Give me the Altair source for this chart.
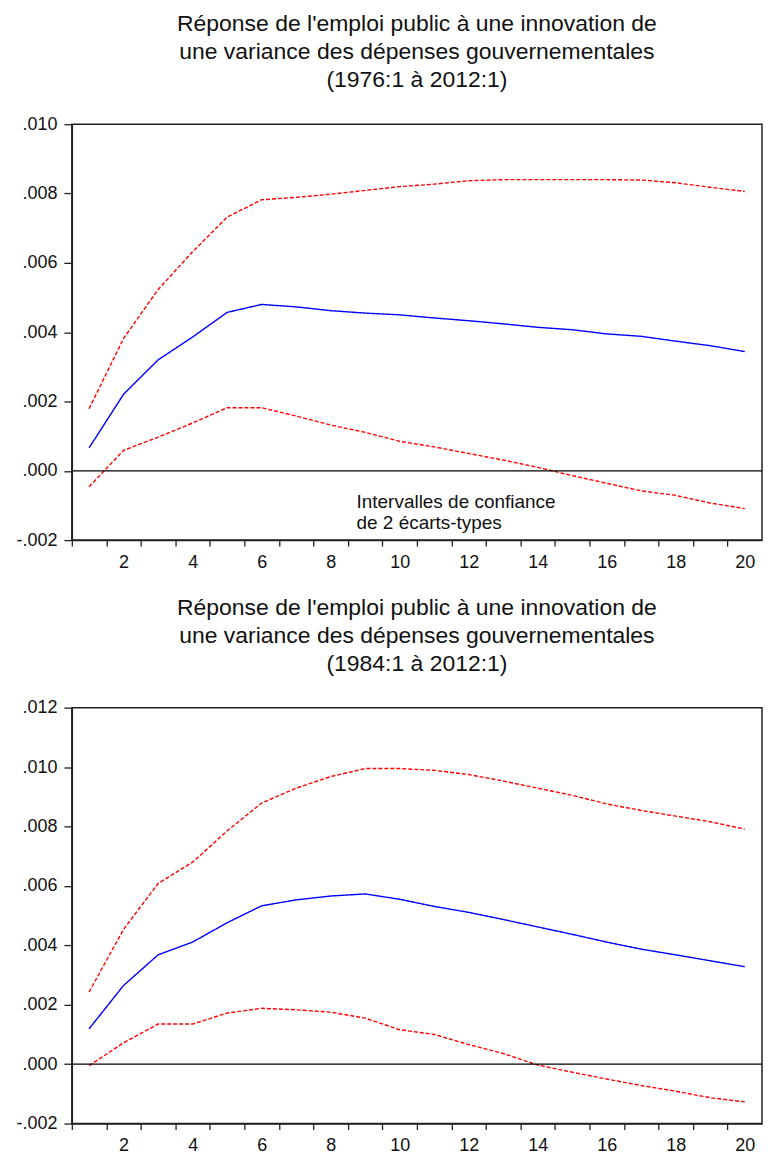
import altair as alt
import pandas as pd

periodes = list(range(1, 21))

# Panel 1 : 1976:1 à 2012:1
reponse_1 = [0.00066, 0.00221, 0.00320, 0.00386, 0.00457, 0.00480, 0.00473, 0.00462, 0.00455, 0.00450,
             0.00441, 0.00433, 0.00424, 0.00414, 0.00407, 0.00395, 0.00388, 0.00374, 0.00361, 0.00344]
haut_1 = [0.00179, 0.00382, 0.00523, 0.00632, 0.00732, 0.00782, 0.00789, 0.00798, 0.00809, 0.00820,
          0.00827, 0.00837, 0.00840, 0.00840, 0.00840, 0.00840, 0.00839, 0.00831, 0.00818, 0.00806]
bas_1 = [-0.00046, 0.00059, 0.00097, 0.00138, 0.00182, 0.00182, 0.00158, 0.00132, 0.00111, 0.00085,
         0.00069, 0.00050, 0.00031, 0.00010, -0.00014, -0.00036, -0.00058, -0.00071, -0.00093, -0.00109]

# Panel 2 : 1984:1 à 2012:1
reponse_2 = [0.00119, 0.00265, 0.00368, 0.00411, 0.00476, 0.00533, 0.00553, 0.00566, 0.00573, 0.00555,
             0.00531, 0.00511, 0.00487, 0.00462, 0.00437, 0.00411, 0.00387, 0.00368, 0.00348, 0.00328]
haut_2 = [0.00243, 0.00454, 0.00608, 0.00680, 0.00785, 0.00879, 0.00929, 0.00968, 0.00995, 0.00995,
          0.00989, 0.00975, 0.00953, 0.00929, 0.00905, 0.00876, 0.00854, 0.00835, 0.00816, 0.00791]
bas_2 = [-0.00005, 0.00072, 0.00135, 0.00135, 0.00172, 0.00188, 0.00183, 0.00175, 0.00155, 0.00116,
         0.00100, 0.00066, 0.00036, -0.00003, -0.00027, -0.00050, -0.00072, -0.00091, -0.00113, -0.00127]

titre_1 = ["Réponse de l'emploi public à une innovation de",
           "une variance des dépenses gouvernementales",
           "(1976:1 à 2012:1)"]
titre_2 = ["Réponse de l'emploi public à une innovation de",
           "une variance des dépenses gouvernementales",
           "(1984:1 à 2012:1)"]
note_texte = "Intervalles de confiance\nde 2 écarts-types"

FONT = "Liberation Sans"
x_ticks = [i + 0.5 for i in range(0, 20)]
W = 692
H = 417


def panel(titre, rep, haut, bas, ymin, ymax, note=False):
    df = pd.DataFrame({
        "periode": periodes * 3,
        "valeur": rep + haut + bas,
        "serie": ["rep"] * 20 + ["haut"] * 20 + ["bas"] * 20,
    })
    y_vals = [round(ymin + 0.002 * k, 3) for k in range(int(round((ymax - ymin) / 0.002)) + 1)]
    x_enc = alt.X("periode:Q",
                  scale=alt.Scale(domain=[0.5, 20.5], nice=False, zero=False),
                  axis=alt.Axis(values=x_ticks, title=None, grid=False,
                                labelExpr="((datum.value + 0.5) % 2 == 0) ? format(datum.value + 0.5, 'd') : ''",
                                labelOffset=W / 40, labelFlush=False, labelOverlap=False,
                                tickSize=6, labelPadding=7, labelFontSize=18))
    y_enc = alt.Y("valeur:Q",
                  scale=alt.Scale(domain=[ymin, ymax], nice=False, zero=False),
                  axis=alt.Axis(values=y_vals, title=None, grid=False,
                                labelExpr="replace(replace(format(datum.value, '.3f'), '\u2212', '-'), '0.', '.')",
                                tickSize=8, labelPadding=7, labelFontSize=18,
                                minExtent=63, maxExtent=63))
    zero = alt.Chart(pd.DataFrame({"valeur": [0.0]})).mark_rule(
        color="black", strokeWidth=1.3).encode(y=y_enc)
    lines = alt.Chart(df).mark_line(strokeWidth=1.4).encode(
        x=x_enc, y=y_enc,
        color=alt.Color("serie:N", legend=None,
                        scale=alt.Scale(domain=["rep", "haut", "bas"],
                                        range=["#0000ff", "#ff0000", "#ff0000"])),
        strokeDash=alt.StrokeDash("serie:N", legend=None,
                                  scale=alt.Scale(domain=["rep", "haut", "bas"],
                                                  range=[[1, 0], [4, 2], [4, 2]])),
        detail="serie:N",
    )
    layers = [lines, zero]
    if note:
        ndf = pd.DataFrame({"periode": [8.75], "valeur": [-0.00106], "texte": [note_texte]})
        txt = alt.Chart(ndf).mark_text(align="left", baseline="alphabetic", fontSize=19,
                                       lineHeight=22, lineBreak="\n", font=FONT,
                                       color="#111111").encode(
            x=x_enc, y=y_enc, text="texte:N")
        layers.append(txt)
    return alt.layer(*layers).properties(
        width=W, height=H,
        title=alt.TitleParams(text=titre, fontSize=23, font=FONT, fontWeight="normal",
                              anchor="middle", lineHeight=28, offset=23, color="#111111"))


p1 = panel(titre_1, reponse_1, haut_1, bas_1, -0.002, 0.010, note=True)
p2 = panel(titre_2, reponse_2, haut_2, bas_2, -0.002, 0.012)

chart = alt.vconcat(p1, p2, spacing=24).properties(
    padding={"top": 3, "left": 0, "right": 0, "bottom": 0}
).configure(
    font=FONT
).configure_view(
    stroke="#222222", strokeWidth=1.5
).configure_axis(
    domainColor="#222222", domainWidth=1.5, tickColor="#222222", tickWidth=1.3,
    labelColor="#111111", labelFont=FONT
)

chart.save("out.html", embed_options={"renderer": "svg", "actions": False})
